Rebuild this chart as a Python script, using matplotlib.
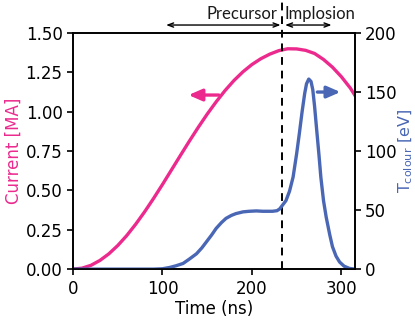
#! /usr/bin/env python3
import matplotlib
matplotlib.use("Agg")
import matplotlib.pyplot as plt

# Corriente (MA)
t_cur = [0, 10, 20, 30, 40, 50, 60, 70, 80, 90, 100, 110, 120, 130, 140, 150,
         160, 170, 180, 190, 200, 210, 220, 230, 240, 250, 260, 270, 280, 290,
         300, 310, 315]
current = [0.000, 0.006, 0.024, 0.055, 0.097, 0.150, 0.213, 0.285, 0.364,
           0.449, 0.538, 0.630, 0.722, 0.813, 0.901, 0.985, 1.063, 1.135,
           1.199, 1.254, 1.300, 1.337, 1.366, 1.388, 1.400, 1.399, 1.390,
           1.370, 1.332, 1.283, 1.222, 1.150, 1.105]

# Temperatura de color (eV)
t_temp = [0, 50, 90, 100, 108, 115, 123, 130, 138, 144, 149, 155, 160, 166,
          171, 177, 182, 190, 197, 205, 212, 223, 228, 231, 234, 238, 242,
          246, 250, 253, 256, 259, 261, 263.5, 266, 268, 270, 272, 275, 277,
          280, 283, 287, 290, 294, 298, 303, 309, 315]
temp = [0, 0, 0, 0.3, 1.4, 2.8, 4.8, 8.5, 13, 18, 23, 29, 34.5, 39.5,
        43, 45.5, 47, 48.5, 49, 49.3, 49, 49, 49.5, 51, 54, 58, 66,
        78, 98, 115, 133, 149, 157, 161, 159, 152, 138, 121, 96, 78,
        58, 44, 29, 19, 11, 6, 2.5, 0.6, 0]

t_split = 234
pink = "#ec2a8e"
blue = "#4a67b5"

fig = plt.figure(figsize=(4.15, 3.27), dpi=100)
ax = fig.add_axes([0.176, 0.177, 0.679, 0.722])
ax2 = ax.twinx()

ax.plot(t_cur, current, color=pink, lw=2.4)
ax2.plot(t_temp, temp, color=blue, lw=2.4)

ax.set_xlim(0, 315)
ax.set_ylim(0, 1.5)
ax2.set_ylim(0, 200)
ax.set_xticks([0, 100, 200, 300])
ax.set_yticks([0, 0.25, 0.5, 0.75, 1.0, 1.25, 1.5])
ax.set_yticklabels(["0.00", "0.25", "0.50", "0.75", "1.00", "1.25", "1.50"])
ax2.set_yticks([0, 50, 100, 150, 200])

for a in (ax, ax2):
    a.tick_params(labelsize=12, width=1.2, length=4)
    for s in a.spines.values():
        s.set_linewidth(1.2)

ax.set_xlabel("Time (ns)", fontsize=12, labelpad=2)
ax.set_ylabel("Current [MA]", fontsize=12, color=pink, labelpad=2)
ax2.set_ylabel(r"T$_{\mathrm{colour}}$ [eV]", fontsize=11.5, color=blue,
               labelpad=0)

# flechas indicando el eje de cada curva
ax.annotate("", xy=(126, 1.106), xytext=(166, 1.106),
            arrowprops=dict(arrowstyle="-|>,head_length=0.8,head_width=0.35",
                            color=pink, lw=2.4))
ax2.annotate("", xy=(302, 150), xytext=(270, 150),
             arrowprops=dict(arrowstyle="-|>,head_length=0.8,head_width=0.35",
                             color=blue, lw=2.4))

# linea de separación que sale del eje
ax.plot([t_split, t_split], [0, 1.5 * 269 / 236], color="black", lw=1.4,
        ls=(0, (4, 3)), clip_on=False, zorder=5)

# flechas dobles arriba
ya = 1.5 * (1 + 8 / 236)
ax.annotate("", xy=(104, ya), xytext=(t_split - 2, ya), annotation_clip=False,
            arrowprops=dict(arrowstyle="<->,head_length=0.4,head_width=0.15",
                            color="black", lw=1.0, shrinkA=0, shrinkB=0))
ax.annotate("", xy=(t_split + 3, ya), xytext=(289, ya), annotation_clip=False,
            arrowprops=dict(arrowstyle="<->,head_length=0.4,head_width=0.15",
                            color="black", lw=1.0, shrinkA=0, shrinkB=0))
yt = 1.5 * (1 + 19 / 236)
ax.text(t_split - 6, yt, "Precursor", ha="right", va="center", fontsize=12,
        family="Lato", color="#1a1a1a")
ax.text(t_split + 2, yt, "Implosion", ha="left", va="center", fontsize=12,
        family="Lato", color="#1a1a1a")

fig.savefig("out.png", dpi=100)
